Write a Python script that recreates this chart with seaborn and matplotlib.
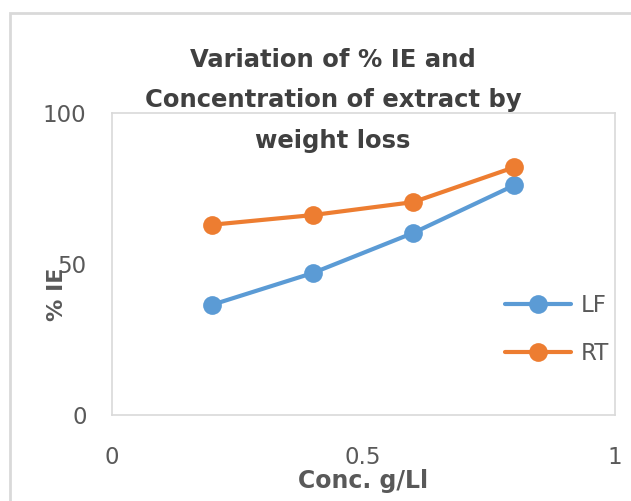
import matplotlib
matplotlib.use("Agg")
import matplotlib.pyplot as plt
import seaborn as sns
import pandas as pd
from matplotlib.patches import Rectangle
from matplotlib.lines import Line2D

# ---- data ----
conc = [0.2, 0.4, 0.6, 0.8]
lf_ie = [36.5, 47, 60.3, 76]
rt_ie = [63, 66.2, 70.5, 82]
series_names = ["LF", "RT"]
title_text = "Variation of % IE and\nConcentration of extract by\nweight loss"
xlabel_text = "Conc. g/Ll"
ylabel_text = "% IE"
xtick_vals = [0, 0.5, 1]
xtick_labels = ["0", "0.5", "1"]
ytick_vals = [0, 50, 100]
ytick_labels = ["0", "50", "100"]

df = pd.DataFrame({
    "conc": conc + conc,
    "ie": lf_ie + rt_ie,
    "series": [series_names[0]] * len(conc) + [series_names[1]] * len(conc),
})

sns.set_theme(style="white")
plt.rcParams["font.family"] = ["DejaVu Sans"]

blue = "#5B9BD5"
orange = "#ED7D31"
txt = "#595959"
grid_c = "#D9D9D9"

fig = plt.figure(figsize=(6.31, 5.01), dpi=100)
ax = fig.add_axes([111.5 / 631, 1 - 415 / 501, 503 / 631, 302 / 501])

sns.lineplot(data=df, x="conc", y="ie", hue="series", palette=[blue, orange],
             marker="o", markersize=13.5, linewidth=3, markeredgewidth=0,
             ax=ax, legend=False)

ax.set_xlim(0, 1)
ax.set_ylim(0, 100)
ax.set_xticks(xtick_vals)
ax.set_xticklabels(xtick_labels)
ax.set_xticks([i / 10 for i in range(1, 10)], minor=True)
ax.set_yticks(ytick_vals)
ax.set_yticklabels(ytick_labels)
ax.tick_params(axis="x", which="both", direction="in", length=7, width=1,
               color=grid_c, labelsize=16.5, labelcolor=txt, pad=22)
ax.tick_params(axis="y", length=0, labelsize=16.5, labelcolor=txt, pad=18)
for s in ax.spines.values():
    s.set_color(grid_c)
    s.set_linewidth(1.2)

ax.set_xlabel(xlabel_text, fontsize=17, fontweight="bold", color=txt)
ax.xaxis.set_label_coords(0.5, -0.178)
ax.set_ylabel(ylabel_text, fontsize=16, fontweight="bold", color=txt)
ax.yaxis.set_label_coords(-0.088, 0.40)

handles = [Line2D([], [], color=blue, marker="o", markersize=13.5, linewidth=3, markeredgewidth=0),
           Line2D([], [], color=orange, marker="o", markersize=13.5, linewidth=3, markeredgewidth=0)]
leg = ax.legend(handles, series_names, loc="center", bbox_to_anchor=(0.885, 0.283),
                frameon=False, fontsize=16.5, handlelength=2.9, handletextpad=0.4,
                labelspacing=1.12, labelcolor=txt)

fig.text(333 / 631, 1 - 48 / 501, title_text, ha="center", va="top",
         fontsize=17.5, fontweight="bold", color="#404040", linespacing=1.86)

fig.add_artist(Rectangle((10 / 631, -0.1), 1.2, 1 - 13 / 501 + 0.1,
                         transform=fig.transFigure, fill=False,
                         edgecolor=grid_c, linewidth=2))

fig.savefig("out.png", dpi=100)
